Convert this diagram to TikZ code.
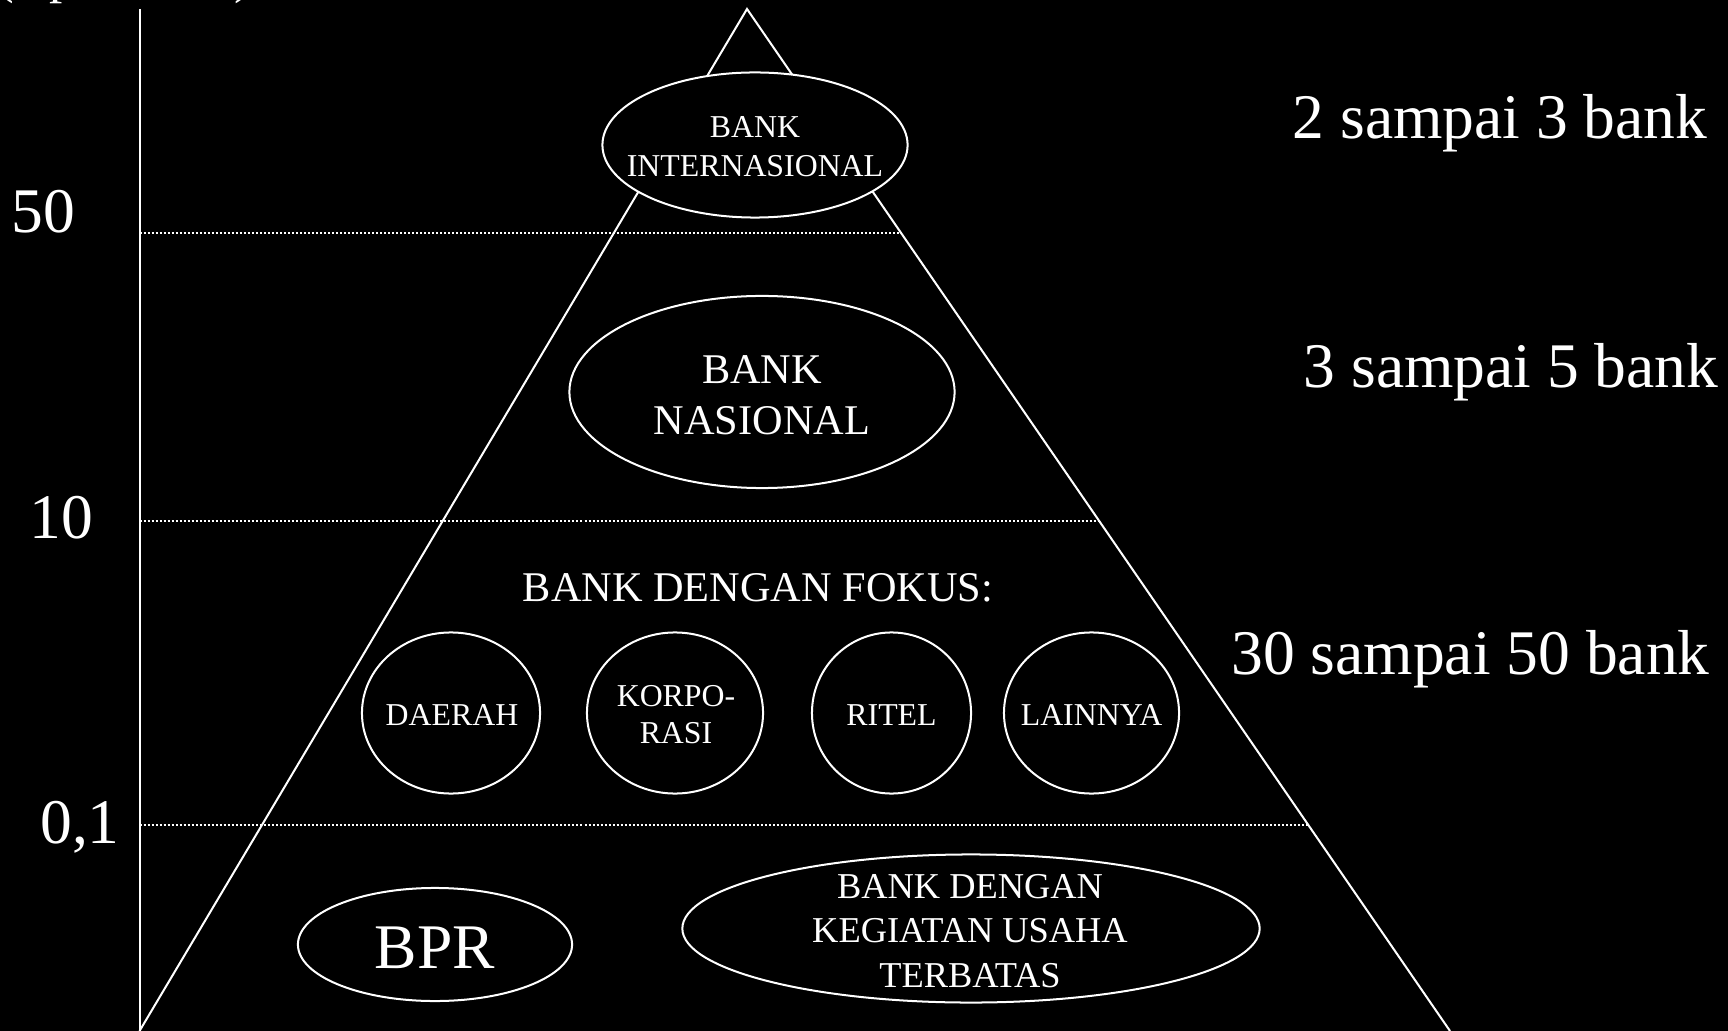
\documentclass[tikz,border=0pt]{standalone}
\usepackage{fontspec}
\setmainfont{Liberation Serif}
\usetikzlibrary{shapes.geometric}
\begin{document}
\begin{tikzpicture}[x=0.01cm,y=-0.01cm,
  txt/.style={text=white, inner sep=0pt, anchor=base},
  big/.style={txt, font=\fontsize{18.07}{21.7}\selectfont},
  mid/.style={txt, font=\fontsize{12.03}{14.4}\selectfont},
  sml/.style={txt, font=\fontsize{10.35}{12.4}\selectfont},
  tny/.style={txt, font=\fontsize{9.05}{10.9}\selectfont},
  oval/.style={draw=white, fill=black, line width=0.57pt, ellipse, inner sep=0pt},
  side/.style={draw=white, line width=0.57pt},
  gridline/.style={draw=white, line width=0.57pt, dash pattern=on 0.57pt off 0.57pt}]
\path[use as bounding box] (0,0) rectangle (1728,1031);
\clip (0,0) rectangle (1728,1031);
\fill[black] (0,0) rectangle (1728,1031);

% cut-off axis caption
\node[txt, anchor=base west, font=\fontsize{15.1}{18}\selectfont] (unit) at (-4.5,-7) {(Rp Triliun)};

% coordinates
\coordinate (apex) at (747,9);
\coordinate (bl) at (139.5,1031);
\coordinate (br) at (1450,1031);
\coordinate (axtop) at (139.5,9);
\coordinate (axbot) at (139.5,1031);
\coordinate (g50a) at (139.5,233);  \coordinate (g50b) at (901,233);
\coordinate (g10a) at (139.5,520.7); \coordinate (g10b) at (1099,520.7);
\coordinate (g01a) at (139.5,825);  \coordinate (g01b) at (1308,825);

% level lines
\draw[gridline] (g50a) -- (g50b);
\draw[gridline] (g10a) -- (g10b);
\draw[gridline] (g01a) -- (g01b);

% axis and pyramid
\draw[side] (axtop) -- (axbot);
\draw[side] (bl) -- (apex) -- (br);

% axis values
\node[big] (v50) at (43,233) {50};
\node[big] (v10) at (61.5,538) {10};
\node[big] (v01) at (80,843) {0,1};

% right labels
\node[big] (r1) at (1500,139) {2 sampai 3 bank};
\node[big] (r2) at (1511,388) {3 sampai 5 bank};
\node[big] (r3) at (1470.5,674) {30 sampai 50 bank};

% ellipses
\node[oval, minimum width=3.05cm, minimum height=1.45cm] (intl) at (755,145) {};
\node[tny] (intl1) at (755,138) {BANK};
\node[tny] (intl2) at (755,177) {INTERNASIONAL};

\node[oval, minimum width=3.85cm, minimum height=1.92cm] (nas) at (762,392) {};
\node[mid] (nas1) at (762,383.5) {BANK};
\node[mid] (nas2) at (762,435) {NASIONAL};

\node[mid] (fokus) at (758,601.7) {BANK DENGAN FOKUS:};

\node[oval, minimum width=1.78cm, minimum height=1.61cm] (daerah) at (451,713) {};
\node[tny] (daerahT) at (452,725) {DAERAH};
\node[oval, minimum width=1.76cm, minimum height=1.61cm] (korpo) at (675,713) {};
\node[tny] (korpo1) at (676,706.7) {KORPO-};
\node[tny] (korpo2) at (676,743) {RASI};
\node[oval, minimum width=1.59cm, minimum height=1.61cm] (ritel) at (891.5,713) {};
\node[tny] (ritelT) at (891.5,725) {RITEL};
\node[oval, minimum width=1.75cm, minimum height=1.61cm] (lain) at (1091.5,713) {};
\node[tny] (lainT) at (1091.5,725) {LAINNYA};

\node[oval, minimum width=2.74cm, minimum height=1.13cm] (bpr) at (435,944.5) {};
\node[big] (bprT) at (435,968) {BPR};

\node[oval, minimum width=5.77cm, minimum height=1.48cm] (kuh) at (971,928.5) {};
\node[sml] (kuh1) at (970,898) {BANK DENGAN};
\node[sml] (kuh2) at (970,942) {KEGIATAN USAHA};
\node[sml] (kuh3) at (970,987) {TERBATAS};
\end{tikzpicture}
\end{document}
